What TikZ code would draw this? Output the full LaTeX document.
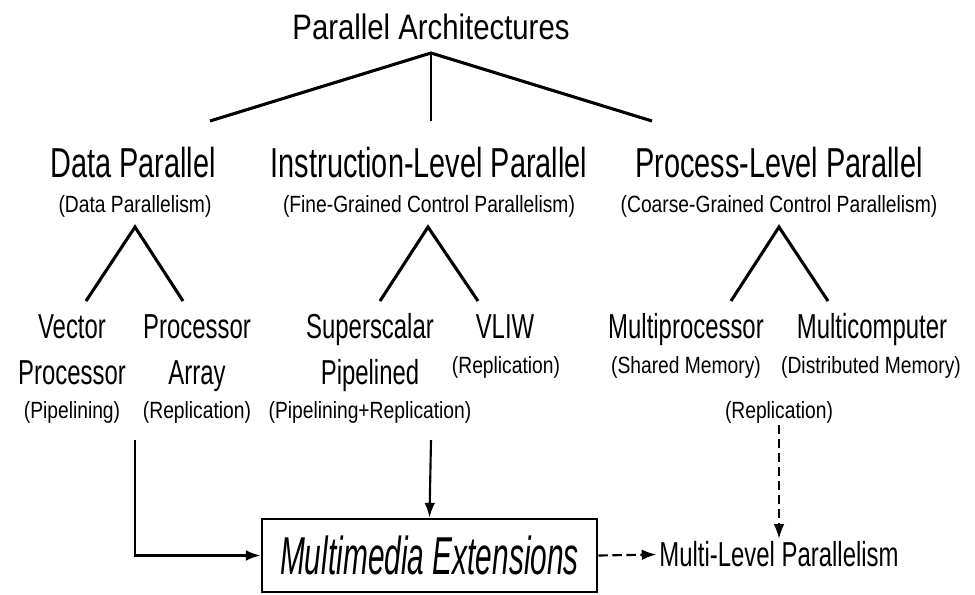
\documentclass[tikz,border=0pt]{standalone}
\usepackage{fontspec}
\setmainfont{Liberation Sans}
\newfontfamily\fTitle[FakeStretch=0.83]{Liberation Sans}
\newfontfamily\fSub[FakeStretch=0.82]{Liberation Sans}
\newfontfamily\fHead[FakeStretch=0.69]{Liberation Sans}
\newfontfamily\fBox[FakeStretch=0.56]{Liberation Sans}
\usetikzlibrary{arrows.meta}
\begin{document}
\begin{tikzpicture}[x=0.75pt,y=-0.75pt,
  lbl/.style={inner sep=0pt, anchor=base},
  titletext/.style={lbl, font=\fTitle\fontsize{26.5}{30}\selectfont},
  headtext/.style={lbl, font=\fHead\fontsize{31.4}{34}\selectfont},
  subtext/.style={lbl, font=\fSub\fontsize{17.6}{20}\selectfont},
  leaftext/.style={lbl, font=\fHead\fontsize{26}{29}\selectfont},
  tree/.style={line width=2.3pt},
  flow/.style={line width=1.6pt, -{Latex[length=11pt,width=8pt]}},
  dflow/.style={flow, dash pattern=on 7pt off 3.5pt},
  mmbox/.style={draw, line width=2.2pt, minimum width=251.25pt, minimum height=54.75pt,
    inner sep=0pt, font=\fBox\fontsize{40}{44}\selectfont\itshape},
]
\useasboundingbox (0,0) rectangle (975,594);

% root
\node[titletext] (root) at (431,39) {Parallel Architectures};

% second level
\node[headtext] (dp)  at (133,177) {Data Parallel};
\node[subtext]  (dps) at (135,212) {(Data Parallelism)};
\node[headtext] (ilp)  at (429,177) {Instruction-Level Parallel};
\node[subtext]  (ilps) at (429,212) {(Fine-Grained Control Parallelism)};
\node[headtext] (plp)  at (779,177) {Process-Level Parallel};
\node[subtext]  (plps) at (779,212) {(Coarse-Grained Control Parallelism)};

% leaves
\node[leaftext] (vp1) at (72,338) {Vector};
\node[leaftext] (vp2) at (72,384) {Processor};
\node[subtext]  (vp3) at (72,418) {(Pipelining)};
\node[leaftext] (pa1) at (197,338) {Processor};
\node[leaftext] (pa2) at (197,384) {Array};
\node[subtext]  (pa3) at (197,418) {(Replication)};
\node[leaftext] (ss1) at (370,338) {Superscalar};
\node[leaftext] (ss2) at (370,384) {Pipelined};
\node[subtext]  (ss3) at (370,418) {(Pipelining+Replication)};
\node[leaftext] (vl1) at (505,338) {VLIW};
\node[subtext]  (vl2) at (506,373) {(Replication)};
\node[leaftext] (mp1) at (686,338) {Multiprocessor};
\node[subtext]  (mp2) at (686,373) {(Shared Memory)};
\node[leaftext] (mc1) at (872,338) {Multicomputer};
\node[subtext]  (mc2) at (871,373) {(Distributed Memory)};
\node[subtext]  (rep) at (779,418) {(Replication)};

% bottom row
\node[mmbox] (mm) at (429.5,555.5) {Multimedia Extensions};
\node[inner sep=2pt, font=\fHead\fontsize{26}{29}\selectfont] (mlp) at (779,554.5) {Multi-Level Parallelism};

% branching points
\coordinate (rootApex) at (431,53);
\coordinate (dpTop) at (210,121);
\coordinate (ilpTop) at (431,121);
\coordinate (plpTop) at (652,121);
\coordinate (dpApex) at (135,227);
\coordinate (vpTop) at (86,301);
\coordinate (paTop) at (183,301);
\coordinate (ilpApex) at (428,227);
\coordinate (ssTop) at (380,301);
\coordinate (vlTop) at (478,301);
\coordinate (plpApex) at (779,227);
\coordinate (mpTop) at (731,301);
\coordinate (mcTop) at (828,301);
\coordinate (dpOut) at (135,440);
\coordinate (ilpOut) at (431,440);
\coordinate (plpOut) at (779,425);

% tree
\draw[tree] (dpTop) -- (rootApex) -- (plpTop);
\draw[line width=1.6pt] (rootApex) -- (ilpTop);
\draw[tree] (vpTop) -- (dpApex) -- (paTop);
\draw[tree] (ssTop) -- (ilpApex) -- (vlTop);
\draw[tree] (mpTop) -- (plpApex) -- (mcTop);

% flows
\draw[flow] (dpOut) |- (mm.west);
\draw[flow] (ilpOut) -- (mm.north);
\draw[dflow] (mm.east) -- (mlp.west);
\draw[dflow] (plpOut) -- (mlp.north);
\end{tikzpicture}
\end{document}
